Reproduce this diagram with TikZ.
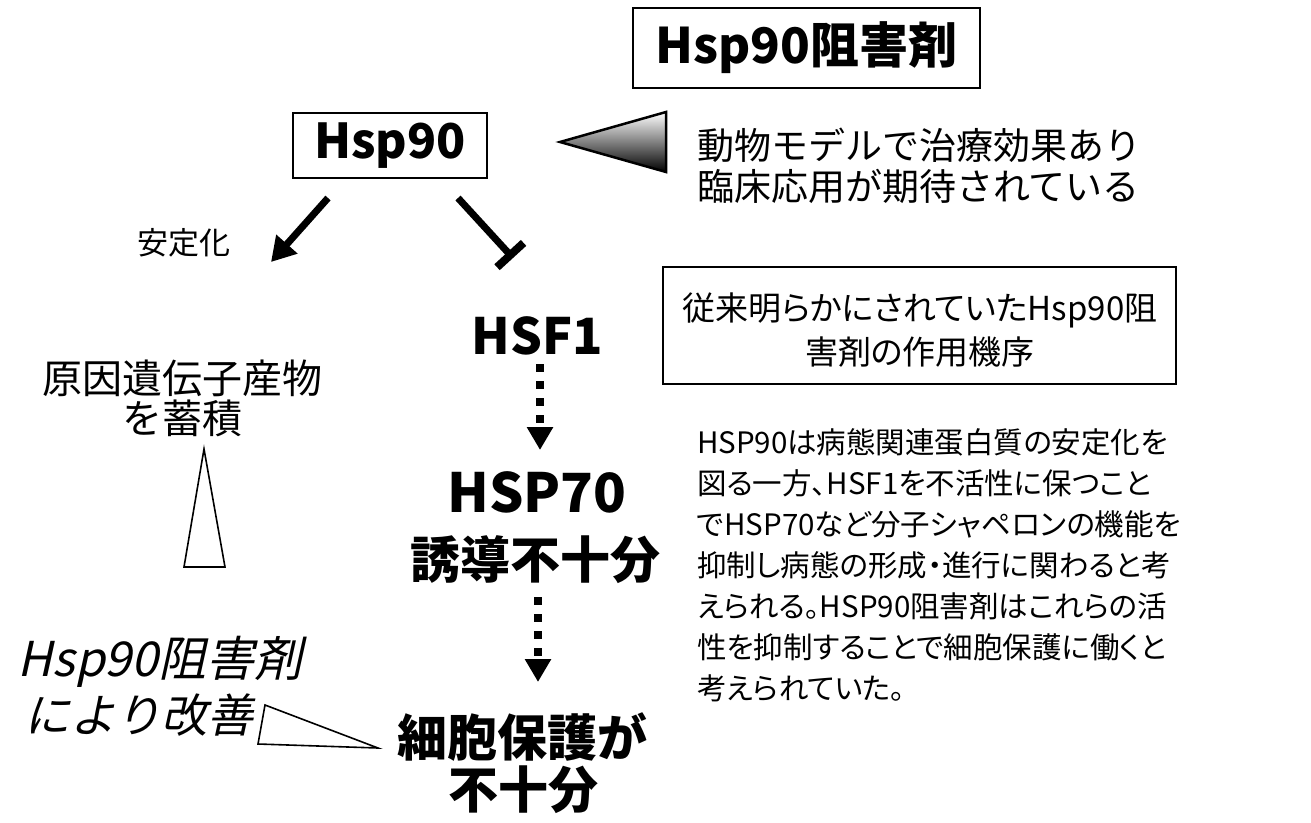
\documentclass[tikz,border=0pt]{standalone}
\usepackage{fontspec}
\setmainfont{Noto Sans CJK JP}
\newfontfamily\jpp{Noto Sans CJK JP}[RawFeature=+palt]
\newfontfamily\jpi{Noto Sans CJK JP}[FakeSlant=0.22]
\usetikzlibrary{arrows.meta}
\begin{document}
\begin{tikzpicture}[x=1pt,y=-1pt,
  every node/.style={inner sep=0pt,outer sep=0pt},
  boldtxt/.style={font=\bfseries\fontsize{50}{56}\selectfont},
  framebox/.style={draw,line width=2pt,fill=white},
  thickarrow/.style={line width=7pt,-{Triangle[length=24pt,width=27pt]}},
  inhibit/.style={line width=7pt,-{Bar[width=36pt,line width=8pt]}},
  dotarrow/.style={line width=8pt,dash pattern=on 8pt off 9pt,-{Triangle[length=23pt,width=25pt]}},
  outlinetri/.style={draw,line width=1.6pt,fill=white,line join=miter}
]
\useasboundingbox (0,0) rectangle (1311,822);

% boxes
\node[framebox,minimum width=347pt,minimum height=80pt,font=\bfseries\fontsize{49}{52}\selectfont] (title) at (806.5,48) {Hsp90阻害剤};
\node[framebox,line width=1.6pt,minimum width=194pt,minimum height=65pt,font=\bfseries\fontsize{48}{52}\selectfont] (hsp) at (390,145.5) {Hsp90};
\node[framebox,line width=1.6pt,minimum width=513pt,minimum height=117pt] (mbox) at (919.5,325.5) {};
\node[font=\jpp\fontsize{33}{44}\selectfont,align=center] (mtext) at (920,330) {従来明らかにされていたHsp90阻\\害剤の作用機序};

% gradient triangle
\coordinate (gtip) at (560,142);
\coordinate (gtop) at (666,112);
\coordinate (gbot) at (666,172);
\shade[top color=white,middle color=gray!70,bottom color=black] (gtip) -- (gtop) -- (gbot) -- cycle;
\draw[line width=2.5pt,line join=miter] (gtip) -- (gtop) -- (gbot) -- cycle;

\node[font=\fontsize{37}{44}\selectfont,anchor=west] (eff1) at (697,145) {動物モデルで治療効果あり};
\node[font=\fontsize{37}{44}\selectfont,anchor=west] (eff2) at (697,186) {臨床応用が期待されている};

% left branch
\coordinate (a1s) at (328,198);
\coordinate (a1e) at (271,262);
\draw[thickarrow] (a1s) -- (a1e);
\node[font=\fontsize{31}{36}\selectfont] (stab) at (184,243) {安定化};
\node[font=\fontsize{40}{40}\selectfont,align=center] (cause) at (182,398) {原因遺伝子産物\\を蓄積};

\draw[outlinetri] (204,449) -- (225,567) -- (184,567) -- cycle;

\node[font=\jpi\fontsize{48}{50}\selectfont] (imp1) at (160,662) {Hsp90阻害剤};
\node[font=\jpi\fontsize{46}{50}\selectfont] (imp2) at (139,715) {により改善};

\draw[outlinetri] (265,705) -- (378,748) -- (258,744) -- cycle;

% right branch
\coordinate (b1s) at (458,198);
\coordinate (b1e) at (513,258);
\draw[inhibit] (b1s) -- (b1e);

\node[boldtxt] (hsf) at (537,336) {HSF1};
\coordinate (d1s) at (540,364);
\coordinate (d1e) at (540,450);
\draw[dotarrow] (d1s) -- (d1e);

\node[boldtxt,font=\bfseries\fontsize{54}{56}\selectfont] (hsp70) at (537,492) {HSP70};
\node[boldtxt] (ind) at (535,560) {誘導不十分};
\coordinate (d2s) at (538,597);
\coordinate (d2e) at (538,682);
\draw[dotarrow] (d2s) -- (d2e);

\node[boldtxt] (prot1) at (522,737) {細胞保護が};
\node[boldtxt] (prot2) at (523,790) {不十分};

% paragraph
\node[font=\jpp\fontsize{29.5}{41}\selectfont,align=left,anchor=west] (para) at (697,565) {HSP90は病態関連蛋白質の安定化を\\図る一方、HSF1を不活性に保つこと\\でHSP70など分子シャペロンの機能を\\抑制し病態の形成・進行に関わると考\\えられる。HSP90阻害剤はこれらの活\\性を抑制することで細胞保護に働くと\\考えられていた。};
\end{tikzpicture}
\end{document}
